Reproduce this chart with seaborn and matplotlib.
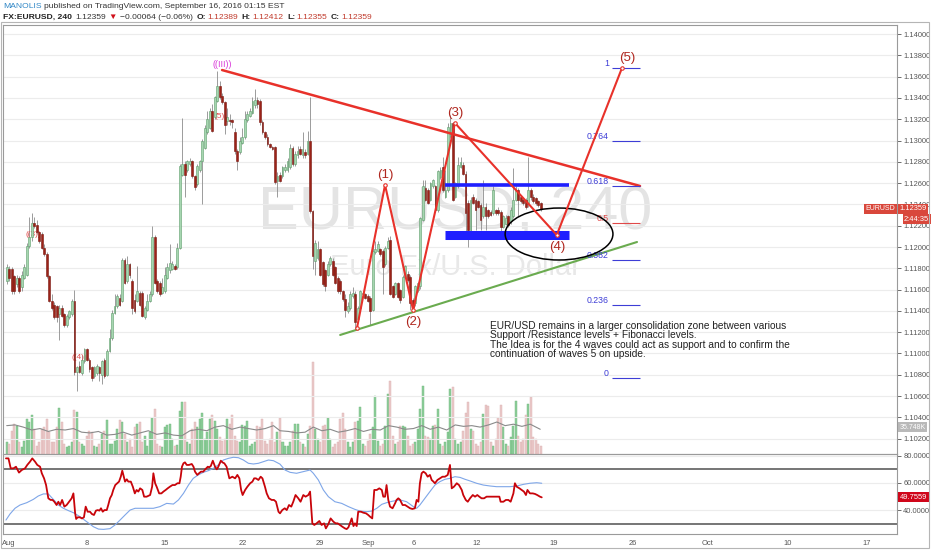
import numpy as np
import matplotlib
matplotlib.use("Agg")
import matplotlib.pyplot as plt
from matplotlib.patches import Ellipse, Rectangle
import seaborn as sns

# ============================================================
# Data : EURUSD 4h candles, Aug 1 -> Sep 16 2016
# ============================================================
opens = [
    1.1168, 1.1179, 1.1179, 1.1173, 1.1165, 1.1171, 1.1162, 1.1171, 1.1174, 1.1201,
    1.1209, 1.1223, 1.1221, 1.1214, 1.1212, 1.1199, 1.1193, 1.1173, 1.1149, 1.1146,
    1.1145, 1.1137, 1.1143, 1.1137, 1.1127, 1.1134, 1.1137, 1.1149, 1.1083, 1.1088,
    1.1082, 1.1093, 1.1104, 1.1094, 1.1087, 1.1079, 1.1082, 1.1087, 1.1080, 1.1094,
    1.1080, 1.1102, 1.1115, 1.1138, 1.1145, 1.1152, 1.1149, 1.1188, 1.1168, 1.1184,
    1.1168, 1.1150, 1.1149, 1.1157, 1.1157, 1.1134, 1.1141, 1.1149, 1.1156, 1.1209,
    1.1168, 1.1166, 1.1157, 1.1159, 1.1171, 1.1178, 1.1179, 1.1182, 1.1181, 1.1199,
    1.1268, 1.1278, 1.1272, 1.1278, 1.1281, 1.1267,
    1.1259, 1.1272, 1.1281, 1.1293, 1.1308, 1.1312, 1.1328, 1.1322, 1.1337, 1.1351,
    1.1342, 1.1336, 1.1318, 1.1319, 1.1319, 1.1308, 1.1290, 1.1289, 1.1298, 1.1303,
    1.1319, 1.1323, 1.1326, 1.1333, 1.1338, 1.1337, 1.1317, 1.1308, 1.1303, 1.1297,
    1.1294, 1.1294, 1.1262, 1.1268, 1.1267, 1.1272, 1.1272, 1.1275, 1.1293, 1.1278,
    1.1286, 1.1292, 1.1286, 1.1289, 1.1287, 1.1300, 1.1234, 1.1187, 1.1190, 1.1198,
    1.1186, 1.1178, 1.1174, 1.1184, 1.1187, 1.1181, 1.1171, 1.1168, 1.1159, 1.1151,
    1.1140, 1.1143, 1.1154, 1.1156, 1.1132, 1.1143, 1.1156, 1.1156, 1.1154, 1.1152,
    1.1141, 1.1195, 1.1196, 1.1198, 1.1196, 1.1184, 1.1199,
    1.1207, 1.1163, 1.1156, 1.1166, 1.1160, 1.1153, 1.1172, 1.1175, 1.1172, 1.1150,
    1.1147, 1.1160, 1.1163, 1.1225, 1.1255, 1.1254, 1.1244, 1.1257, 1.1257, 1.1235,
    1.1266, 1.1275, 1.1247, 1.1254, 1.1304, 1.1316, 1.1247, 1.1257, 1.1275, 1.1277,
    1.1269, 1.1241, 1.1216, 1.1247, 1.1244, 1.1243, 1.1239, 1.1229, 1.1238, 1.1235,
    1.1233, 1.1232, 1.1235, 1.1235, 1.1233, 1.1219, 1.1222, 1.1229, 1.1224, 1.1229,
    1.1244, 1.1254, 1.1247, 1.1244, 1.1244, 1.1240, 1.1254, 1.1247, 1.1246, 1.1243,
    1.1241,
]
closes = [
    1.1181, 1.1171, 1.1159, 1.1159, 1.1171, 1.1159, 1.1174, 1.1181, 1.1201, 1.1209,
    1.1223, 1.1220, 1.1214, 1.1206, 1.1199, 1.1193, 1.1173, 1.1149, 1.1143, 1.1134,
    1.1134, 1.1143, 1.1135, 1.1127, 1.1135, 1.1140, 1.1149, 1.1083, 1.1087, 1.1083,
    1.1094, 1.1104, 1.1094, 1.1085, 1.1077, 1.1087, 1.1088, 1.1082, 1.1093, 1.1079,
    1.1102, 1.1115, 1.1138, 1.1145, 1.1154, 1.1146, 1.1188, 1.1166, 1.1184, 1.1174,
    1.1143, 1.1140, 1.1159, 1.1146, 1.1135, 1.1143, 1.1149, 1.1156, 1.1209, 1.1166,
    1.1159, 1.1156, 1.1162, 1.1174, 1.1181, 1.1185, 1.1184, 1.1179, 1.1199, 1.1276,
    1.1278, 1.1268, 1.1281, 1.1281, 1.1267, 1.1256,
    1.1276, 1.1281, 1.1300, 1.1312, 1.1320, 1.1328, 1.1309, 1.1341, 1.1351, 1.1341,
    1.1336, 1.1315, 1.1322, 1.1318, 1.1317, 1.1290, 1.1281, 1.1300, 1.1303, 1.1320,
    1.1325, 1.1328, 1.1337, 1.1338, 1.1334, 1.1317, 1.1308, 1.1303, 1.1297, 1.1294,
    1.1292, 1.1261, 1.1267, 1.1262, 1.1275, 1.1275, 1.1281, 1.1293, 1.1278, 1.1287,
    1.1290, 1.1287, 1.1292, 1.1286, 1.1300, 1.1234, 1.1192, 1.1204, 1.1198, 1.1174,
    1.1165, 1.1163, 1.1184, 1.1190, 1.1174, 1.1166, 1.1159, 1.1159, 1.1151, 1.1141,
    1.1145, 1.1156, 1.1157, 1.1130, 1.1143, 1.1159, 1.1157, 1.1152, 1.1149, 1.1140,
    1.1196, 1.1198, 1.1203, 1.1193, 1.1181, 1.1199, 1.1206,
    1.1156, 1.1153, 1.1166, 1.1153, 1.1150, 1.1172, 1.1182, 1.1169, 1.1147, 1.1144,
    1.1163, 1.1166, 1.1227, 1.1257, 1.1244, 1.1241, 1.1260, 1.1263, 1.1235, 1.1271,
    1.1272, 1.1254, 1.1254, 1.1313, 1.1316, 1.1244, 1.1260, 1.1277, 1.1280, 1.1269,
    1.1232, 1.1216, 1.1244, 1.1241, 1.1235, 1.1238, 1.1225, 1.1238, 1.1229, 1.1229,
    1.1230, 1.1254, 1.1232, 1.1232, 1.1219, 1.1229, 1.1227, 1.1221, 1.1235, 1.1244,
    1.1254, 1.1244, 1.1243, 1.1241, 1.1238, 1.1254, 1.1247, 1.1243, 1.1241, 1.1239,
    1.1236,
]
highs = [
    1.1184, 1.1182, 1.1181, 1.1174, 1.1174, 1.1173, 1.1177, 1.1184, 1.1204, 1.1228,
    1.1232, 1.1228, 1.1225, 1.1215, 1.1214, 1.1203, 1.1195, 1.1174, 1.1156, 1.1148,
    1.1146, 1.1146, 1.1146, 1.1138, 1.1137, 1.1141, 1.1151, 1.1160, 1.1088, 1.1093,
    1.1099, 1.1105, 1.1105, 1.1096, 1.1088, 1.1088, 1.1090, 1.1088, 1.1094, 1.1096,
    1.1104, 1.1123, 1.1141, 1.1156, 1.1156, 1.1156, 1.1190, 1.1190, 1.1192, 1.1185,
    1.1170, 1.1156, 1.1182, 1.1159, 1.1159, 1.1145, 1.1156, 1.1159, 1.1220, 1.1211,
    1.1170, 1.1168, 1.1171, 1.1181, 1.1185, 1.1203, 1.1187, 1.1184, 1.1204, 1.1278,
    1.1321, 1.1281, 1.1282, 1.1284, 1.1282, 1.1268,
    1.1278, 1.1282, 1.1301, 1.1315, 1.1328, 1.1331, 1.1334, 1.1342, 1.1365, 1.1356,
    1.1345, 1.1337, 1.1331, 1.1325, 1.1320, 1.1312, 1.1292, 1.1303, 1.1312, 1.1328,
    1.1328, 1.1331, 1.1341, 1.1348, 1.1341, 1.1339, 1.1319, 1.1309, 1.1306, 1.1298,
    1.1295, 1.1295, 1.1270, 1.1270, 1.1276, 1.1278, 1.1284, 1.1297, 1.1295, 1.1290,
    1.1295, 1.1295, 1.1308, 1.1292, 1.1309, 1.1341, 1.1235, 1.1207, 1.1206, 1.1199,
    1.1187, 1.1179, 1.1187, 1.1192, 1.1190, 1.1182, 1.1173, 1.1170, 1.1160, 1.1156,
    1.1148, 1.1159, 1.1162, 1.1159, 1.1145, 1.1160, 1.1159, 1.1157, 1.1156, 1.1154,
    1.1204, 1.1206, 1.1206, 1.1199, 1.1198, 1.1201, 1.1209,
    1.1210, 1.1164, 1.1167, 1.1167, 1.1161, 1.1174, 1.1183, 1.1177, 1.1174, 1.1152,
    1.1164, 1.1167, 1.1228, 1.1263, 1.1263, 1.1255, 1.1261, 1.1264, 1.1258, 1.1272,
    1.1275, 1.1285, 1.1272, 1.1316, 1.1324, 1.1317, 1.1261, 1.1285, 1.1285, 1.1280,
    1.1271, 1.1244, 1.1247, 1.1250, 1.1246, 1.1244, 1.1241, 1.1263, 1.1241, 1.1236,
    1.1235, 1.1257, 1.1236, 1.1238, 1.1235, 1.1230, 1.1230, 1.1230, 1.1238, 1.1274,
    1.1257, 1.1255, 1.1249, 1.1246, 1.1246, 1.1285, 1.1255, 1.1250, 1.1247, 1.1244,
    1.1242,
]
lows = [
    1.1165, 1.1168, 1.1156, 1.1156, 1.1162, 1.1157, 1.1159, 1.1170, 1.1173, 1.1199,
    1.1206, 1.1218, 1.1212, 1.1204, 1.1198, 1.1192, 1.1171, 1.1148, 1.1141, 1.1132,
    1.1130, 1.1113, 1.1134, 1.1125, 1.1125, 1.1132, 1.1135, 1.1080, 1.1065, 1.1082,
    1.1080, 1.1091, 1.1093, 1.1083, 1.1074, 1.1077, 1.1080, 1.1074, 1.1071, 1.1077,
    1.1079, 1.1101, 1.1113, 1.1137, 1.1143, 1.1145, 1.1148, 1.1165, 1.1166, 1.1171,
    1.1137, 1.1138, 1.1148, 1.1145, 1.1134, 1.1132, 1.1140, 1.1148, 1.1154, 1.1165,
    1.1157, 1.1154, 1.1156, 1.1157, 1.1170, 1.1176, 1.1178, 1.1178, 1.1179, 1.1198,
    1.1267, 1.1247, 1.1270, 1.1276, 1.1265, 1.1254,
    1.1257, 1.1270, 1.1240, 1.1292, 1.1306, 1.1311, 1.1308, 1.1320, 1.1336, 1.1339,
    1.1334, 1.1306, 1.1315, 1.1315, 1.1312, 1.1287, 1.1272, 1.1287, 1.1297, 1.1301,
    1.1317, 1.1322, 1.1325, 1.1331, 1.1331, 1.1315, 1.1306, 1.1301, 1.1295, 1.1293,
    1.1291, 1.1259, 1.1247, 1.1261, 1.1265, 1.1270, 1.1270, 1.1273, 1.1276, 1.1276,
    1.1284, 1.1286, 1.1284, 1.1284, 1.1286, 1.1232, 1.1179, 1.1174, 1.1188, 1.1173,
    1.1163, 1.1159, 1.1173, 1.1182, 1.1173, 1.1165, 1.1157, 1.1156, 1.1149, 1.1134,
    1.1138, 1.1141, 1.1152, 1.1123, 1.1130, 1.1141, 1.1154, 1.1151, 1.1148, 1.1127,
    1.1140, 1.1193, 1.1195, 1.1192, 1.1156, 1.1182, 1.1198,
    1.1155, 1.1152, 1.1155, 1.1152, 1.1147, 1.1152, 1.1171, 1.1167, 1.1141, 1.1141,
    1.1145, 1.1158, 1.1161, 1.1224, 1.1243, 1.1240, 1.1243, 1.1255, 1.1233, 1.1233,
    1.1264, 1.1252, 1.1246, 1.1252, 1.1302, 1.1243, 1.1246, 1.1255, 1.1274, 1.1268,
    1.1213, 1.1200, 1.1214, 1.1240, 1.1216, 1.1237, 1.1216, 1.1227, 1.1216, 1.1227,
    1.1229, 1.1230, 1.1230, 1.1230, 1.1210, 1.1218, 1.1221, 1.1219, 1.1222, 1.1227,
    1.1243, 1.1229, 1.1241, 1.1239, 1.1236, 1.1238, 1.1244, 1.1241, 1.1239, 1.1238,
    1.1234,
]

# volume per bar, in K
volume = [
    16, 14, 32, 41, 39, 16, 9, 18, 48, 44, 53, 34, 11, 16, 34, 37, 48, 30, 16, 16,
    37, 63, 44, 14, 9, 11, 16, 60, 58, 16, 14, 11, 25, 32, 30, 11, 9, 14, 28, 32,
    47, 14, 14, 18, 34, 47, 44, 28, 16, 21, 9, 37, 41, 44, 16, 25, 11, 30, 49, 62,
    14, 11, 9, 37, 40, 41, 21, 11, 12, 59, 72, 72, 16, 14, 34, 44, 37, 48, 56, 21,
    30, 48, 54, 46, 34, 23, 18, 21, 48, 41, 53, 25, 18, 16, 40, 39, 46, 11, 14, 16,
    39, 37, 48, 18, 14, 21, 44, 16, 30,
    50, 16, 11, 11, 16, 32, 41, 41, 16, 14, 9, 28, 39, 126, 34, 21, 16, 39, 40, 50,
    21, 9, 14, 16, 48, 57, 34, 16, 9, 16, 44, 46, 64, 14, 11, 18, 28, 37, 80, 18,
    11, 14, 39, 82, 101, 25, 14, 16, 39, 39, 37, 25, 11, 14, 16, 34, 62, 93, 25, 23,
    21, 39, 40, 62, 14, 11, 16, 30, 89, 92, 21, 14, 16, 32, 57, 71, 34, 32, 14, 11,
    16, 55, 67, 66, 16, 11, 21, 50, 67, 37, 14, 11, 23, 39, 73, 25, 16, 21, 53, 69,
    78, 23, 21, 14, 11,
]

# volume moving average (bar index, K)
vol_ma_bar = [0, 3.3, 6.6, 10, 13.3, 16.6, 19.9, 23.3, 26.6, 29.9, 33.2, 36.6, 39.9,
              43.2, 46.5, 49.9, 53.2, 56.5, 59.8, 63.2, 66.5, 69.8, 73.1, 76.5, 79.8,
              83.1, 86.4, 89.8, 93.1, 96.4, 99.7, 103.1, 106.4,
              109, 112.4, 115.7, 119, 122.3, 125.7, 129, 132.3, 135.6, 139, 142.3,
              145.6, 149, 152.3, 155.6, 158.9, 162.2, 165.6, 168.9, 172.2, 175.5,
              178.9, 182.2, 185.5, 188.8, 192.2, 195.5, 198.8, 202.1, 205.5, 208.8, 212.8]
vol_ma_val = [39, 40, 37, 33, 35, 31, 34, 33, 35, 30, 29, 31, 26, 27, 30, 26, 29, 32,
              27, 29, 26, 25, 32, 34, 32, 37, 39, 34, 37, 35, 33, 35, 39,
              32, 31, 29, 30, 37, 32, 34, 30, 32, 35, 31, 34, 33, 39, 37, 34, 35,
              39, 34, 37, 33, 40, 38, 39, 37, 40, 44, 39, 41, 38, 41, 34]

# RSI (bar index, value)
rsi_bar = [
    -0.3, 0.7, 1.6, 2.7, 3.7, 4.9, 6.0, 7.3, 8.2, 9.3, 10.2, 11.3, 12.2, 13.3, 14.0,
    14.9, 15.7, 16.6, 17.5, 18.3, 19.0, 19.9, 20.6, 21.3, 22.1, 23.0, 23.9, 24.9,
    25.9, 26.6, 27.3, 27.7, 28.3, 29.2, 30.0, 30.8, 31.5, 32.3, 33.2, 34.0, 34.8,
    35.6, 36.3, 37.0, 37.6, 38.3, 39.0, 39.9, 40.5, 41.2, 41.9, 42.5, 43.3, 44.1,
    44.8, 45.5, 46.1, 46.7, 47.2, 47.9, 48.5, 49.5, 50.3, 51.1, 51.8, 52.5, 53.2,
    54.1, 54.8, 55.8, 57.2, 58.0, 58.5, 59.2, 59.8, 60.8, 61.7, 62.5, 63.4, 64.2,
    65.1, 66.1, 67.1, 68.1, 68.9, 69.4, 69.9, 70.5, 71.1, 71.8, 72.7, 73.8, 74.5,
    75.1, 76.0, 76.7, 77.5, 78.4, 79.2, 80.2, 80.8, 81.4, 82.2, 83.1, 83.8, 84.4,
    85.4, 86.2, 86.8, 87.7, 88.8, 90.0, 91.1, 92.0, 92.8, 93.5, 94.1, 95.1, 96.0,
    97.1, 98.0, 98.7, 99.4, 100.4, 101.3, 102.0, 103.0, 103.7, 104.6, 105.7, 106.6,
    107.4, 108.4, 109.0,
    109.9, 110.9, 111.7, 112.6, 113.5, 114.3, 115.2, 116.3, 117.2, 118.3, 119.2,
    120.3, 121.0, 121.9, 122.7, 123.6, 124.7, 125.6, 126.6, 127.3, 128.3, 129.2,
    130.3, 131.2, 132.0, 132.9, 133.9, 134.9, 135.6, 136.3, 136.9, 137.6, 138.3,
    138.9, 139.6, 140.2, 141.3, 142.2, 143.3, 144.2, 144.9, 145.8, 146.6, 147.6,
    148.6, 149.6, 150.2, 150.9, 151.5, 152.2, 152.9, 153.9, 154.9, 155.5, 156.2,
    156.9, 157.9, 158.9, 159.9, 160.9, 161.8, 162.8, 163.5, 164.2, 164.8, 165.5,
    166.2, 167.1, 167.9, 168.8, 169.5, 170.2, 170.8, 171.8, 172.8, 173.8, 174.8,
    175.9, 176.8, 177.5, 178.4, 179.5, 180.4, 181.5, 182.1, 183.1, 183.9, 184.8,
    185.9, 186.8, 187.7, 188.5, 189.4, 190.4, 191.4, 192.4, 193.4, 194.4, 195.4,
    196.5, 197.0, 198.1, 199.1, 200.1, 201.0, 202.1, 202.7, 203.4, 204.5, 205.4,
    206.3, 207.1, 207.7, 208.7, 209.8, 210.7, 211.6, 212.7, 213.4,
]
rsi_val = [
    78.0, 78.0, 70.7, 70.7, 71.9, 67.6, 69.5, 70.7, 73.2, 75.6, 78.0, 75.6, 73.2,
    71.9, 67.1, 63.4, 58.5, 48.8, 47.6, 47.6, 46.3, 43.9, 46.3, 43.9, 47.6, 42.7,
    43.9, 46.3, 48.8, 52.4, 37.8, 33.7, 34.9, 34.9, 34.1, 34.9, 42.7, 39.0, 39.0,
    37.3, 36.6, 39.8, 40.2, 39.8, 41.5, 39.0, 40.2, 40.2, 43.9, 48.8, 51.2, 54.9,
    58.5, 59.8, 61.0, 64.6, 69.0, 64.6, 61.0, 62.7, 61.0, 61.0, 57.3, 52.4, 54.9,
    53.7, 56.1, 54.9, 50.0, 50.0, 51.2, 57.3, 67.1, 59.8, 57.3, 52.4, 52.4, 53.7,
    54.9, 56.1, 57.3, 58.5, 58.5, 59.8, 59.8, 64.6, 71.9, 74.4, 75.1, 73.2, 73.2,
    73.9, 71.9, 68.3, 65.9, 67.1, 68.3, 68.3, 70.0, 71.9, 71.5, 72.4, 76.3, 71.9,
    70.0, 71.9, 76.3, 74.9, 74.4, 71.9, 63.4, 64.6, 63.4, 65.9, 63.4, 54.9, 51.2,
    54.9, 57.3, 59.8, 61.0, 63.4, 63.4, 62.2, 64.6, 63.4, 57.3, 52.4, 48.8, 47.6,
    47.6, 46.3, 39.0, 37.8,
    40.2, 41.5, 40.2, 43.9, 42.7, 46.3, 51.2, 48.8, 46.3, 51.2, 50.0, 51.2, 53.7,
    30.5, 29.3, 30.5, 32.2, 29.3, 30.5, 26.8, 30.0, 34.1, 31.7, 30.5, 30.5, 29.3,
    28.0, 26.8, 26.3, 27.6, 30.5, 34.1, 28.5, 30.5, 28.5, 39.0, 39.0, 38.3, 37.8,
    36.6, 35.4, 34.1, 54.9, 54.9, 56.1, 54.9, 50.0, 50.0, 58.5, 47.6, 42.7, 41.5,
    45.1, 47.6, 48.8, 47.6, 43.9, 43.9, 42.7, 41.5, 41.0, 41.5, 47.6, 46.3, 59.8,
    67.1, 68.3, 67.1, 64.6, 65.9, 62.2, 61.0, 59.8, 62.2, 63.4, 64.6, 64.6, 65.9,
    73.2, 56.1, 57.3, 59.8, 58.5, 54.9, 51.2, 47.6, 46.3, 48.8, 51.2, 50.0, 51.2,
    50.0, 48.8, 48.8, 50.0, 50.0, 50.0, 50.0, 50.0, 50.0, 46.3, 46.3, 47.6, 47.6,
    46.3, 52.4, 59.8, 57.3, 56.1, 54.9, 53.7, 51.2, 54.9, 52.4, 52.4, 52.0, 51.2,
    50.0, 49.5,
]

# RSI moving average (blue)
rsi_ma_bar = [-0.3, 1.3, 3.3, 5.3, 8.0, 10.6, 12.6, 14.6, 16.6, 18.6, 20.6, 22.6,
              24.6, 26.6, 29.2, 31.9, 34.6, 36.6, 38.6, 41.2, 43.2, 45.2, 47.2, 49.2,
              51.2, 53.2, 55.8, 58.5, 61.1, 63.8, 66.5, 68.5, 70.5, 72.5, 74.4, 76.4,
              78.4, 80.4, 82.4, 84.4, 86.4, 88.4, 90.4, 92.4, 94.4, 96.4, 98.4, 100.4,
              102.4, 104.4, 106.4, 109.0, 111.0, 113.0, 115.6, 118.3, 121.0, 122.3,
              124.3, 126.3, 128.3, 130.9, 133.6, 136.3, 138.9, 140.9, 143.6, 145.6,
              147.6, 149.6, 151.5, 154.2, 156.9, 159.5, 162.2, 163.5, 164.8, 166.8,
              168.8, 170.8, 172.8, 174.8, 176.8, 178.8, 180.8, 182.8, 184.8, 187.4,
              190.1, 192.8, 195.4, 198.1, 200.7, 203.4, 206.1, 208.7, 211.4, 213.4]
rsi_ma_val = [32.9, 37.3, 41.5, 43.9, 45.6, 48.0, 50.5, 52.0, 52.0, 48.0, 43.9, 41.5,
              39.8, 38.3, 35.4, 31.7, 28.0, 26.3, 26.1, 26.6, 29.3, 32.9, 36.6, 40.2,
              41.5, 41.5, 41.5, 41.5, 42.7, 45.1, 44.6, 47.6, 52.4, 58.5, 63.4, 65.9,
              67.8, 69.0, 70.7, 73.2, 76.8, 78.0, 78.8, 78.5, 76.8, 74.4, 73.9, 74.4,
              75.6, 76.8, 76.3, 73.8, 69.5, 67.8, 67.1, 68.3, 69.5, 67.1,
              62.2, 54.9, 50.0, 46.3, 45.1, 42.7, 40.7, 39.5, 39.0, 39.5,
              41.5, 44.4, 45.6, 46.8, 47.6, 46.3, 42.7, 41.5, 43.9, 48.8,
              53.7, 58.5, 61.0, 62.7, 63.4, 64.6, 64.1, 62.7, 61.5, 59.8,
              58.5, 57.8, 57.3, 57.3, 57.3, 57.8, 59.0, 59.8, 60.2, 59.8]

# x-axis date labels (bar index where each date starts)
date_labels = ["Aug", "8", "15", "22", "29", "Sep", "6", "12", "19", "26", "Oct", "10", "17"]
date_ticks = [0.9, 32.0, 63.1, 94.3, 125.0, 144.1, 162.5, 187.6, 218.3, 249.8, 279.7, 311.6, 343.1]

price_ticks = np.round(np.arange(1.102, 1.1401, 0.002), 3)

# Elliott wave drawing : (bar, price)
wave_bar = [139.7, 150.9, 162.1, 178.8, 219.4, 245.4]
wave_price = [1.11239, 1.12582, 1.11408, 1.13164, 1.12113, 1.13681]
wave_names = ["", "(1)", "(2)", "(3)", "(4)", "(5)"]

# trend lines : (bar0, price0, bar1, price1)
resistance_line = (85.9, 1.13662, 252.6, 1.12573)
support_line = (133.0, 1.11174, 251.4, 1.12047)

# horizontal zones
zone_bars = (175.0, 224.3)
zone_top = 1.12582
zone_bottom = 1.12113

# fibonacci extension
fib_zero = 1.10770
fib_one = 1.13681
fib_levels = [1, 0.764, 0.618, 0.5, 0.382, 0.236, 0]
fib_names = ["1", "0.764", "0.618", "0.5", "0.382", "0.236", "0"]

last_close = 1.12359
last_rsi = 49.7559

note = ("EUR/USD remains in a larger consolidation zone between various\n"
        "Support /Resistance levels + Fibonacci levels.\n"
        "The Idea is for the 4 waves could act as support and to confirm the\n"
        "continuation of waves 5 on upside.")

# ============================================================
# Figure
# ============================================================
sns.set_theme(style="white")
plt.rcParams['font.family'] = ['Liberation Sans', 'DejaVu Sans']

W, H = 932, 550
fig = plt.figure(figsize=(W / 100, H / 100), dpi=100)
fig.patch.set_facecolor("white")

ax = fig.add_axes([3 / W, 1 - 454 / H, 894 / W, 429 / H])
ax_r = fig.add_axes([3 / W, 1 - 534 / H, 894 / W, 80 / H])
ax_v = ax.twinx()
ax.set_zorder(ax_v.get_zorder() + 1)
ax.patch.set_visible(False)

opens = np.array(opens); closes = np.array(closes)
highs = np.array(highs); lows = np.array(lows)
bar = np.arange(len(closes))
up = closes >= opens

xlim = (-1.48, 355.1)
tick_fs = 5.4

# --- volume ---
vol = np.array(volume)
ax_v.bar(bar[up], vol[up], width=0.8, color="#8fcf9b", edgecolor="#6db57b", linewidth=0.3)
ax_v.bar(bar[~up], vol[~up], width=0.8, color="#ebcaca", edgecolor="#d9b0b0", linewidth=0.3)
sns.lineplot(x=vol_ma_bar, y=vol_ma_val, ax=ax_v, color="#8a8a8a", lw=0.8,
             estimator=None, sort=False)
ax_v.set_ylim(0, 590)
ax_v.set_yticks([])
ax_v.set_ylabel("")
ax_v.set_xlim(*xlim)
for s in ax_v.spines.values():
    s.set_visible(False)

# --- candles ---
ax.vlines(bar, lows, highs, color="#8c8c8c", lw=0.6, zorder=3)
body_lo = np.minimum(opens, closes)
body_h = np.maximum(np.abs(closes - opens), 0.00004)
ax.bar(bar[up], body_h[up], bottom=body_lo[up], width=0.72, color="#a6d6b0",
       edgecolor="#5e9d6c", linewidth=0.4, zorder=4)
ax.bar(bar[~up], body_h[~up], bottom=body_lo[~up], width=0.72, color="#9b2318",
       edgecolor="#7a1710", linewidth=0.4, zorder=4)

ax.set_xlim(*xlim)
ax.set_ylim(1.10056, 1.14085)
ax.set_yticks(price_ticks)
ax.set_yticklabels([f"{t:.5f}" for t in price_ticks])
ax.yaxis.tick_right()
ax.tick_params(axis="y", labelsize=tick_fs, colors="#555555", length=3, pad=1.5, width=0.6)
ax.tick_params(axis="x", bottom=False, labelbottom=False)
ax.yaxis.grid(True, color="#ececec", lw=0.8)
ax.set_axisbelow(True)
for s in ax.spines.values():
    s.set_color("#9a9a9a")
    s.set_linewidth(0.8)

# watermark
ax.text(0.506, 0.56, "EURUSD, 240", transform=ax.transAxes, fontsize=44,
        color="#e4e4e4", ha="center", va="center", zorder=0)
ax.text(0.506, 0.435, "Euro Fx/U.S. Dollar", transform=ax.transAxes, fontsize=21,
        color="#e8e8e8", ha="center", va="center", zorder=0)

# trend lines
ax.plot(resistance_line[::2], resistance_line[1::2], color="#e8312a", lw=1.8, zorder=6)
ax.plot(support_line[::2], support_line[1::2], color="#6aab4f", lw=1.5, zorder=6)

# S/R zones
ax.hlines(zone_top, *zone_bars, color="#1f1fff", lw=2.6, zorder=6)
ax.hlines(zone_bottom, *zone_bars, color="#1f1fff", lw=6.5, zorder=6)

# ellipse around wave (4)
ax.add_patch(Ellipse((220.3, 1.12122), 43, 0.00488, fill=False,
                     edgecolor="black", lw=1.1, zorder=7))

# Elliott waves
ax.plot(wave_bar, wave_price, color="#e8312a", lw=1.5, zorder=8,
        marker="o", ms=2.5, mfc="white", mec="#e8312a", mew=0.8)
for i, (b, p, name) in enumerate(zip(wave_bar, wave_price, wave_names)):
    if not name:
        continue
    above = i % 2 == 1
    ax.text(b + (2 if i == 5 else 0), p + (0.00098 if above else -0.00110), name,
            color="#b0271f", fontsize=9.5, ha="center", va="center", zorder=9)

# older wave labels
ax.text(85.9, 1.13718, "((III))", color="#d93bd9", fontsize=6.5, ha="center", va="center")
ax.text(85.1, 1.13221, "(5)", color="#e05050", fontsize=6, ha="center", va="center")
ax.text(10.5, 1.12122, "((3))", color="#e05050", fontsize=6, ha="center", va="center")
ax.text(28.8, 1.10958, "((4))", color="#e05050", fontsize=6, ha="center", va="center")

# fibonacci
for lvl, name in zip(fib_levels, fib_names):
    p = fib_zero + lvl * (fib_one - fib_zero)
    col = "#e04848" if lvl == 0.5 else "#3d3dd6"
    ax.hlines(p, 241.4, 252.6, color=col, lw=0.8, zorder=6)
    ax.text(240.2, p, name, color=col, fontsize=6.3, ha="right", va="bottom", zorder=6)

# note
ax.text(192.8, 1.11305, note, fontsize=7.3, color="#222222", ha="left", va="top",
        linespacing=0.92, zorder=9)

# last price tags
ytr = ax.get_yaxis_transform()
ax.text(0.998, last_close, "EURUSD", transform=ytr, fontsize=5,
        color="white", ha="right", va="center", clip_on=False, zorder=10,
        bbox=dict(boxstyle="square,pad=0.25", fc="#d9473b", ec="none"))
ax.text(1.003, last_close, "1.12359", transform=ytr, fontsize=tick_fs,
        color="white", ha="left", va="center", clip_on=False, zorder=10,
        bbox=dict(boxstyle="square,pad=0.2", fc="#d9473b", ec="none"))
ax.text(1.008, last_close - 0.00100, "2:44:35", transform=ytr,
        fontsize=tick_fs, color="white", ha="left", va="center", clip_on=False, zorder=10,
        bbox=dict(boxstyle="square,pad=0.2", fc="#d9473b", ec="none"))
ax_v.text(1.003, 37, "35.748K", transform=ax_v.get_yaxis_transform(), fontsize=5,
          color="white", ha="left", va="center", clip_on=False,
          bbox=dict(boxstyle="square,pad=0.2", fc="#b9b9b9", ec="none"))

# --- RSI ---
ax_r.axhline(70, color="#6a6a6a", lw=1.3)
ax_r.axhline(30, color="#6a6a6a", lw=1.3)
sns.lineplot(x=rsi_ma_bar, y=rsi_ma_val, ax=ax_r, color="#7ea6e8", lw=0.8,
             estimator=None, sort=False)
sns.lineplot(x=rsi_bar, y=rsi_val, ax=ax_r, color="#c8040a", lw=1.3,
             estimator=None, sort=False)
ax_r.set_xlim(*xlim)
ax_r.set_ylim(22.7, 81.2)
ax_r.set_yticks([40, 60, 80])
ax_r.set_yticklabels(["40.0000", "60.0000", "80.0000"])
ax_r.yaxis.tick_right()
ax_r.yaxis.grid(True, color="#ececec", lw=0.8)
ax_r.set_axisbelow(True)
ax_r.set_xticks(date_ticks)
ax_r.set_xticklabels(date_labels)
ax_r.tick_params(axis="x", labelsize=tick_fs, colors="#555555", length=3, pad=1.5, width=0.6)
ax_r.tick_params(axis="y", labelsize=tick_fs, colors="#555555", length=3, pad=1.5, width=0.6)
ax_r.set_xlabel("")
ax_r.set_ylabel("")
for s in ax_r.spines.values():
    s.set_color("#9a9a9a")
    s.set_linewidth(0.8)
ax_r.text(1.003, last_rsi, "49.7559", transform=ax_r.get_yaxis_transform(),
          fontsize=tick_fs, color="white", ha="left", va="center", clip_on=False,
          bbox=dict(boxstyle="square,pad=0.2", fc="#d0061a", ec="none"))

# outer frame
fig.patches.append(Rectangle((1 / W, 2 / H), 928 / W, 526 / H, transform=fig.transFigure,
                             fill=False, ec="#b5b5b5", lw=0.8))

# --- header : segments laid out one after the other ---
renderer = fig.canvas.get_renderer()
hs = 6.1

def header_line(y_px, parts):
    x = 3.0
    y = 1 - y_px / H
    for txt, col, bold, gap in parts:
        t = fig.text(x / W, y, txt, color=col, fontsize=hs, va="center",
                     fontweight="bold" if bold else "normal")
        x += t.get_window_extent(renderer).width + gap

header_line(7, [("MANOLIS", "#2f86c6", False, 2.5),
                ("published on TradingView.com, September 16, 2016 01:15 EST", "#333333", False, 0)])
header_line(17.5, [("FX:EURUSD, 240", "#222222", True, 3.5),
                   ("1.12359", "#333333", False, 2.5),
                   ("\u25bc", "#d0101a", False, 2.5),
                   ("\u22120.00064 (\u22120.06%)", "#333333", False, 4),
                   ("O:", "#222222", True, 1), ("1.12389", "#c0392b", False, 4),
                   ("H:", "#222222", True, 1), ("1.12412", "#c0392b", False, 4),
                   ("L:", "#222222", True, 1), ("1.12355", "#c0392b", False, 4),
                   ("C:", "#222222", True, 1), ("1.12359", "#c0392b", False, 0)])

fig.savefig("out.png", dpi=100)
